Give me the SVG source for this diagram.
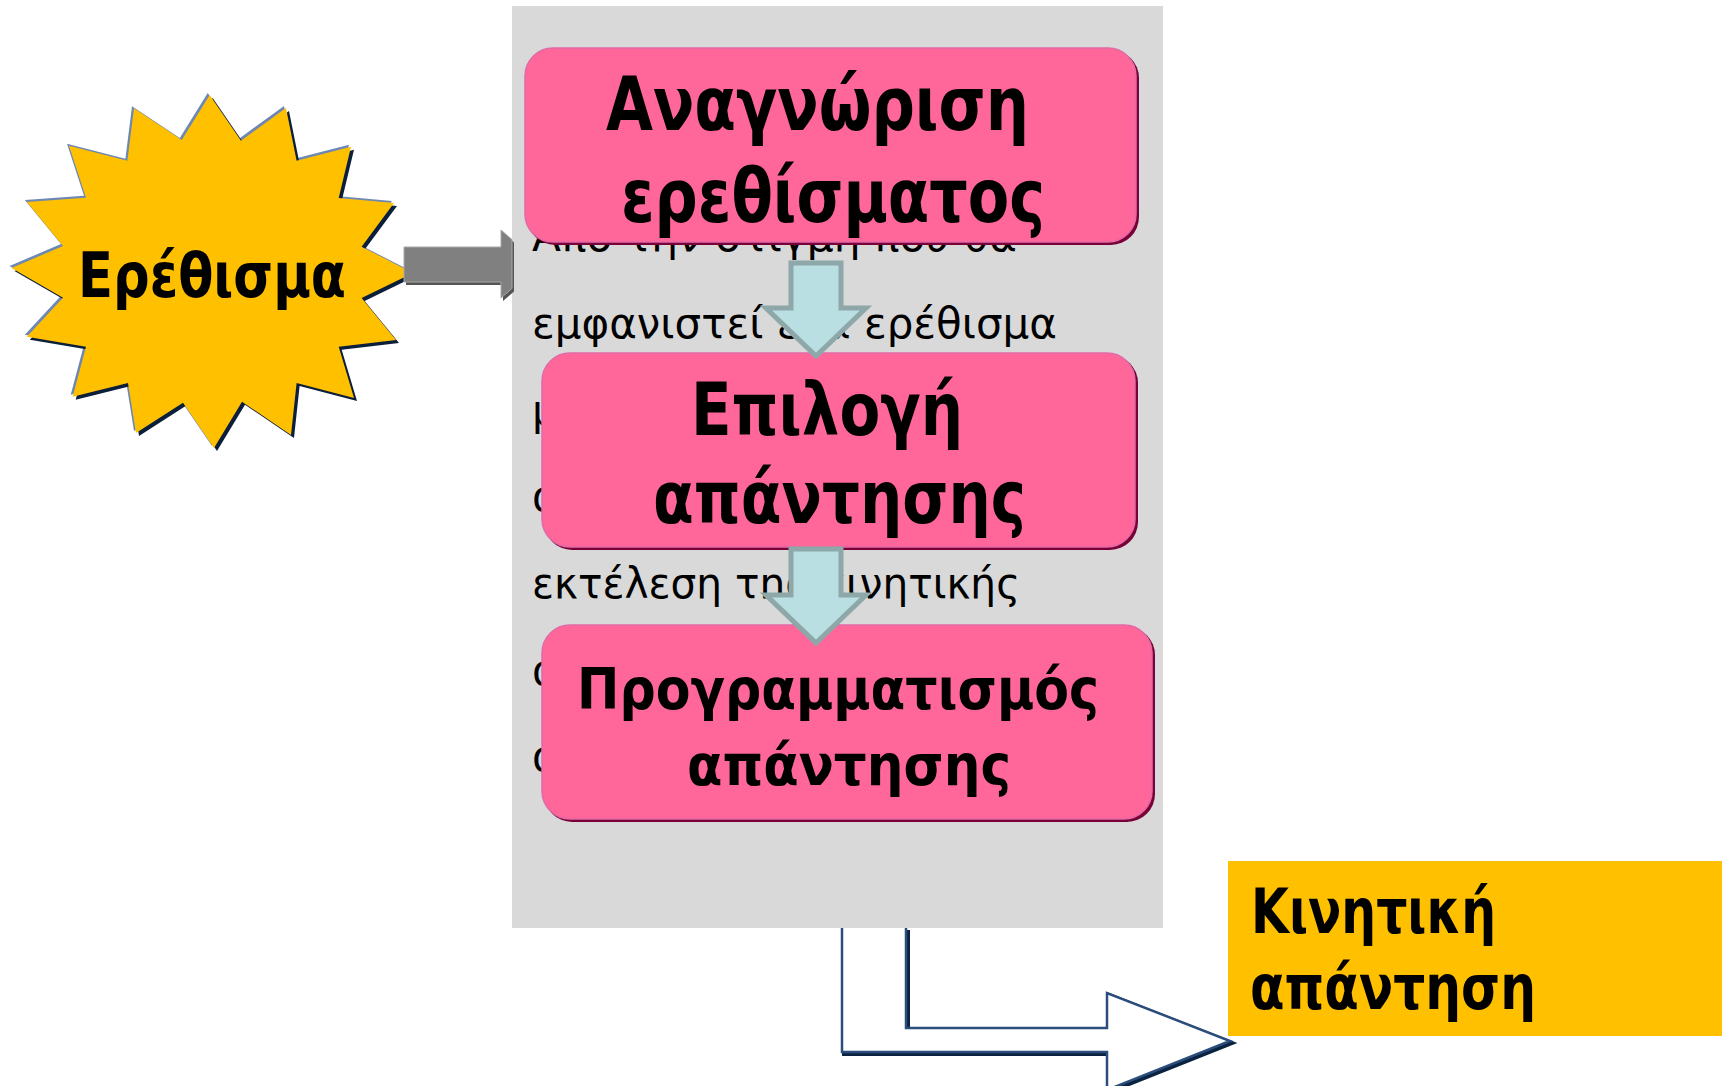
<svg xmlns="http://www.w3.org/2000/svg" width="1727" height="1086" viewBox="0 0 1727 1086">
<style>
.big{font-family:"DejaVu Sans Condensed","DejaVu Sans",sans-serif;font-weight:bold;fill:#000}
.bg{font-family:"DejaVu Sans","Liberation Sans",sans-serif;font-size:42px;fill:#000}
.pink{fill:#FF6699;stroke:#E26AA5;stroke-width:1.5}
.pinkshadow{fill:#7A0038}
.down{fill:#B9DFE3;stroke:#8EA8AA;stroke-width:5;stroke-linejoin:miter}
</style>
<rect width="1727" height="1086" fill="#FFFFFF"/>

<g id="stimulus">
<polygon transform="translate(-2,-2)" fill="#6E88B4" points="209.7,95 241,140.7 286,108 296.6,160.7 351,146.7 338.7,198 394,203 361.6,246.7 413,273 361.6,298 396,340 338.7,346.7 354,398 296.6,383 291,435 242,401.7 214,448 183,402.7 136,433 128,383 72.7,396.7 86,346.7 26.8,336.7 63,297.7 11.5,268 63,246 26.8,202 86,197.7 69,145.7 127.4,160.7 134,108.3 181.8,140"/>
<polygon transform="translate(3,3)" fill="#0B1E3A" points="209.7,95 241,140.7 286,108 296.6,160.7 351,146.7 338.7,198 394,203 361.6,246.7 413,273 361.6,298 396,340 338.7,346.7 354,398 296.6,383 291,435 242,401.7 214,448 183,402.7 136,433 128,383 72.7,396.7 86,346.7 26.8,336.7 63,297.7 11.5,268 63,246 26.8,202 86,197.7 69,145.7 127.4,160.7 134,108.3 181.8,140"/>
<polygon fill="#FFC000" points="209.7,95 241,140.7 286,108 296.6,160.7 351,146.7 338.7,198 394,203 361.6,246.7 413,273 361.6,298 396,340 338.7,346.7 354,398 296.6,383 291,435 242,401.7 214,448 183,402.7 136,433 128,383 72.7,396.7 86,346.7 26.8,336.7 63,297.7 11.5,268 63,246 26.8,202 86,197.7 69,145.7 127.4,160.7 134,108.3 181.8,140"/>
<text class="big" x="78" y="297" font-size="62" textLength="268" lengthAdjust="spacingAndGlyphs">Ερέθισμα</text>
</g>

<g id="panel">
<rect x="512" y="6" width="651" height="922" fill="#D9D9D9"/>
<text class="bg" x="532" y="251" textLength="485" lengthAdjust="spacingAndGlyphs">Από την στιγμή που θα</text>
<text class="bg" x="532" y="338" textLength="525" lengthAdjust="spacingAndGlyphs">εμφανιστεί ένα ερέθισμα</text>
<text class="bg" x="532" y="425">μ</text>
<text class="bg" x="532" y="511">ά</text>
<text class="bg" x="532" y="598" textLength="488" lengthAdjust="spacingAndGlyphs">εκτέλεση της κινητικής</text>
<text class="bg" x="532" y="685">α</text>
<text class="bg" x="532" y="771">α</text>
</g>

<g id="recognition">
<rect class="pinkshadow" x="527" y="50" width="612" height="195" rx="28"/>
<rect class="pink" x="525" y="48" width="611" height="194" rx="28"/>
<text class="big" x="606" y="130" font-size="75" textLength="423" lengthAdjust="spacingAndGlyphs">Αναγνώριση</text>
<text class="big" x="621" y="222" font-size="75" textLength="424" lengthAdjust="spacingAndGlyphs">ερεθίσματος</text>
</g>

<g id="selection">
<rect class="pinkshadow" x="544" y="355" width="594" height="195" rx="28"/>
<rect class="pink" x="542" y="353" width="593" height="194" rx="28"/>
<text class="big" x="691" y="435" font-size="73" textLength="272" lengthAdjust="spacingAndGlyphs">Επιλογή</text>
<text class="big" x="653" y="523" font-size="73" textLength="373" lengthAdjust="spacingAndGlyphs">απάντησης</text>
</g>

<g id="programming">
<rect class="pinkshadow" x="544" y="627" width="611" height="195" rx="28"/>
<rect class="pink" x="542" y="625" width="610" height="194" rx="28"/>
<text class="big" x="577" y="709" font-size="57" textLength="522" lengthAdjust="spacingAndGlyphs">Προγραμματισμός</text>
<text class="big" x="687" y="785" font-size="57" textLength="324" lengthAdjust="spacingAndGlyphs">απάντησης</text>
</g>

<g id="response">
<rect x="1228" y="861" width="494" height="175" fill="#FFC000"/>
<text class="big" x="1251" y="933" font-size="63" textLength="245" lengthAdjust="spacingAndGlyphs">Κινητική</text>
<text class="big" x="1250" y="1009" font-size="63" textLength="286" lengthAdjust="spacingAndGlyphs">απάντηση</text>
</g>

<g id="connectors">
<polygon transform="translate(2,3)" fill="#555555" points="404,247 501,247 501,230 512,239.6 512,288.4 501,298 501,282 404,282"/>
<polygon fill="#808080" stroke="#A8A8A8" stroke-width="1" points="404,247 501,247 501,230 512,239.6 512,288.4 501,298 501,282 404,282"/>
<polygon class="down" points="791,263 841,263 841,308 866,308 816,356 766,308 791,308"/>
<polygon class="down" points="791,549 841,549 841,595 866,595 816,643 766,595 791,595"/>
<path transform="translate(2,2)" d="M842,928 L842,1052 L1107,1052 L1107,1090 L1230,1041 L1107,993 L1107,1028 L906,1028 L906,928" fill="none" stroke="#0B2340" stroke-width="4"/>
<path d="M842,928 L842,1052 L1107,1052 L1107,1090 L1230,1041 L1107,993 L1107,1028 L906,1028 L906,928" fill="#FFFFFF" stroke="#2A4D7C" stroke-width="2.5"/>
</g>
</svg>
